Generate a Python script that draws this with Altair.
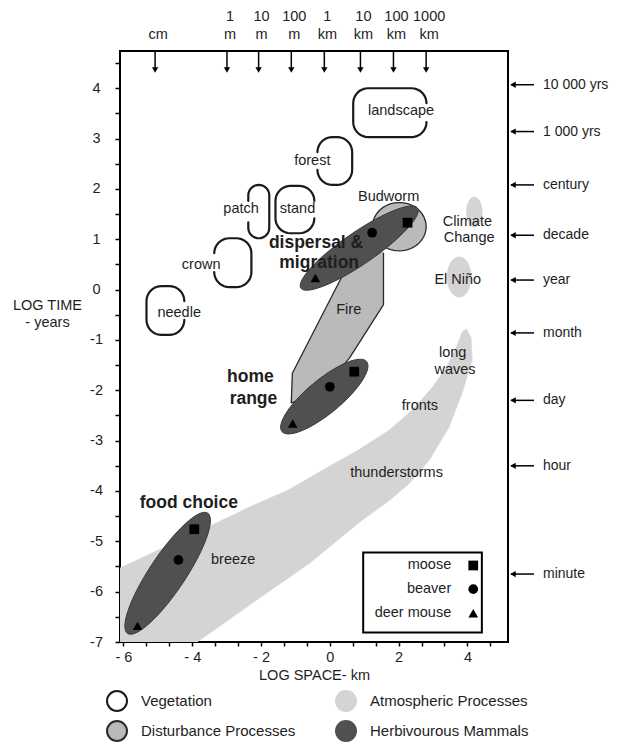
import altair as alt
import numpy as np
import pandas as pd

# ------------------------------------------------------------------ axes
X_DOMAIN = [-6.1, 5.18]
Y_DOMAIN = [-7.0, 4.74]
x_tick_values = [-6, -5.333, -4.667, -4, -3.333, -2.667, -2, -1.333, -0.667, 0,
                 0.667, 1.333, 2, 2.667, 3.333, 4, 4.667]
y_tick_values = [-7, -6.5, -6, -5.5, -5, -4.5, -4, -3.5, -3, -2.5, -2, -1.5, -1, -0.5,
                 0, 0.5, 1, 1.5, 2, 2.5, 3, 3.5, 4, 4.5]

# ------------------------------------------------------------------ top space arrows (log km)
top_x = [-5.08, -2.99, -2.07, -1.12, -0.16, 0.89, 1.85, 2.80]
top_num = ["", "1", "10", "100", "1", "10", "100", "1000"]
top_unit = ["cm", "m", "m", "m", "km", "km", "km", "km"]

# ------------------------------------------------------------------ right time arrows (log years)
right_y = [4.07, 3.14, 2.08, 1.08, 0.19, -0.86, -2.2, -3.5, -5.65]
right_lab = ["10 000 yrs", "1 000 yrs", "century", "decade", "year", "month", "day", "hour", "minute"]

# ------------------------------------------------------------------ vegetation (open outlines)
veg_name = ["needle", "crown", "patch", "stand", "forest", "landscape"]
veg_x0 = [-5.33, -3.36, -2.37, -1.58, -0.36, 0.68]
veg_x1 = [-4.23, -2.28, -1.76, -0.45, 0.65, 2.81]
veg_y0 = [-0.90, 0.05, 1.02, 1.12, 2.08, 3.03]
veg_y1 = [0.07, 1.02, 2.08, 2.06, 3.03, 4.00]
veg_open = ["right", "left", "left", "right", "left", "right"]

# ------------------------------------------------------------------ atmospheric processes
band_x = [-6.1, -6.1, -3.50, -2.34, -1.18, -0.22, 0.77, 1.73, 2.40, 2.98, 3.39, 3.68, 3.85,
          3.97, 4.11, 4.14, 3.85, 3.47, 2.89, 2.31, 1.73, 0.94, -0.60, -2.05, -3.85]
band_y = [-7.0, -5.53, -4.70, -4.32, -3.97, -3.59, -3.21, -2.79, -2.39, -1.94, -1.54, -1.14, -0.84,
          -0.78, -0.96, -1.40, -2.05, -2.73, -3.39, -3.85, -4.19, -4.58, -5.44, -6.13, -7.0]
blob_name = ["Climate Change", "El Niño"]
blob_cx = [4.20, 3.76]
blob_cy = [1.54, 0.25]
blob_rx = [0.23, 0.35]
blob_ry = [0.30, 0.40]

# ------------------------------------------------------------------ disturbance processes
fire_x = [1.56, 1.56, 0.57, -0.36, -1.12, -1.09, 0.33, 1.15]
fire_y = [0.73, -0.30, -1.36, -2.09, -2.25, -1.66, 0.23, 0.99]
bud_cx, bud_cy, bud_rx, bud_ry = 2.02, 1.25, 0.78, 0.48

# ------------------------------------------------------------------ herbivorous mammals
herb_name = ["food choice", "home range", "dispersal"]
herb_xa = [-5.88, -1.39, -0.84]
herb_ya = [-6.83, -2.82, 0.03]
herb_xb = [-3.55, 1.07, 2.55]
herb_yb = [-4.44, -1.43, 1.62]
herb_w = [36, 34, 32]

mk_species = ["deer mouse", "beaver", "moose"] * 3
mk_x = [-5.59, -4.40, -3.94, -1.08, 0.00, 0.71, -0.42, 1.23, 2.26]
mk_y = [-6.68, -5.37, -4.76, -2.66, -1.93, -1.63, 0.23, 1.13, 1.33]

# ------------------------------------------------------------------ labels
reg_text = ["needle", "crown", "patch", "stand", "forest", "landscape", "Budworm", "Climate",
            "Change", "El Niño", "long", "waves", "fronts", "thunderstorms", "Fire", "breeze"]
reg_x = [-4.38, -3.74, -2.58, -0.94, -0.51, 2.07, 1.71, 4.0, 4.05, 3.72, 3.57, 3.64, 2.62, 1.94, 0.55, -2.81]
reg_y = [-0.46, 0.49, 1.60, 1.60, 2.56, 3.54, 1.84, 1.34, 1.02, 0.19, -1.25, -1.60, -2.31, -3.64, -0.40, -5.38]
bold_text = ["food choice", "home", "range", "dispersal &", "migration"]
bold_x = [-4.10, -2.31, -2.22, -0.40, -0.31]
bold_y = [-4.23, -1.73, -2.18, 0.93, 0.52]

# ------------------------------------------------------------------ inner species legend
leg_species = ["moose", "beaver", "deer mouse"]
leg_y = [-5.48, -5.95, -6.43]
leg_text_x = 3.53
leg_sym_x = 4.17
leg_box = dict(x=0.97, x2=4.42, y=-6.81, y2=-5.22)
species_shapes = ["square", "circle", "triangle-up"]

# ------------------------------------------------------------------ category legend (column-major)
cats = ["Vegetation", "Disturbance Processes", "Atmospheric Processes", "Herbivourous Mammals"]
cat_fill = ["white", "#bababa", "#d4d4d4", "#505050"]
cat_stroke = ["#1a1a1a", "#2a2a2a", "#d4d4d4", "#505050"]

# ================================================================== geometry helpers
W, H = 388, 591
SX = W / (X_DOMAIN[1] - X_DOMAIN[0])
SY = H / (Y_DOMAIN[1] - Y_DOMAIN[0])


def arc(cx, cy, r, a0, a1, n=10):
    t = np.radians(np.linspace(a0, a1, n))
    return list(zip(cx + r * np.cos(t), cy + r * np.sin(t)))


def veg_outline(x0, x1, y0, y1, side, r_px=15, gap=0.40):
    w = (x1 - x0) * SX
    h = (y1 - y0) * SY
    r = min(r_px, w / 2, h / 2)
    top = min(h / 2 + gap * h / 2, h - r)
    bot = max(h / 2 - gap * h / 2, r)
    pts = [(w, top)]
    pts += arc(w - r, h - r, r, 0, 90)
    pts += arc(r, h - r, r, 90, 180)
    pts += arc(r, r, r, 180, 270)
    pts += arc(w - r, r, r, 270, 360)
    pts += [(w, bot)]
    if side == "left":
        pts = [(w - px, py) for px, py in pts]
    return [(x0 + px / SX, y0 + py / SY) for px, py in pts]


def ellipse_between(xa, ya, xb, yb, width_px, n=72):
    ax, ay, bx, by = xa * SX, ya * SY, xb * SX, yb * SY
    cx, cy = (ax + bx) / 2, (ay + by) / 2
    a = np.hypot(bx - ax, by - ay) / 2
    b = width_px / 2
    th = np.arctan2(by - ay, bx - ax)
    t = np.linspace(0, 2 * np.pi, n + 1)
    px = cx + a * np.cos(t) * np.cos(th) - b * np.sin(t) * np.sin(th)
    py = cy + a * np.cos(t) * np.sin(th) + b * np.sin(t) * np.cos(th)
    return list(zip(px / SX, py / SY))


def ellipse(cx, cy, rx, ry, n=60):
    t = np.linspace(0, 2 * np.pi, n + 1)
    return list(zip(cx + rx * np.cos(t), cy + ry * np.sin(t)))


def frame(shapes):
    rows = []
    for sid, pts in shapes:
        for i, (x, y) in enumerate(pts):
            rows.append({"id": sid, "o": i, "x": x, "y": y})
    return pd.DataFrame(rows)


atm_df = frame([("band", list(zip(band_x, band_y)))] +
               [(n, ellipse(cx, cy, rx, ry)) for n, cx, cy, rx, ry in
                zip(blob_name, blob_cx, blob_cy, blob_rx, blob_ry)])
fire_df = frame([("fire", list(zip(fire_x, fire_y)))])
bud_df = frame([("budworm", ellipse(bud_cx, bud_cy, bud_rx, bud_ry))])
herb_df = frame([(n, ellipse_between(a, b, c, d, w)) for n, a, b, c, d, w in
                 zip(herb_name, herb_xa, herb_ya, herb_xb, herb_yb, herb_w)])
veg_df = frame([(n, veg_outline(a, b, c, d, s)) for n, a, b, c, d, s in
                zip(veg_name, veg_x0, veg_x1, veg_y0, veg_y1, veg_open)])

mk_df = pd.DataFrame({"sp": mk_species, "x": mk_x, "y": mk_y})
leg_df = pd.DataFrame({"sp": leg_species, "y": leg_y, "xt": [leg_text_x] * 3, "x": [leg_sym_x] * 3})
box_df = pd.DataFrame([leg_box])
top_df = pd.DataFrame({"x": top_x, "num": top_num, "unit": top_unit})
right_df = pd.DataFrame({"y": right_y, "lab": right_lab})
reg_df = pd.DataFrame({"t": reg_text, "x": reg_x, "y": reg_y})
bold_df = pd.DataFrame({"t": bold_text, "x": bold_x, "y": bold_y})
cat_df = pd.DataFrame({"cat": cats})

# ================================================================== encodings
FONT = "Liberation Sans"
TXT = "#1e1e1e"
FS = 14.5

xs = alt.Scale(domain=X_DOMAIN, nice=False, zero=False)
ys = alt.Scale(domain=Y_DOMAIN, nice=False, zero=False)
x_axis = alt.Axis(
    values=x_tick_values, title="LOG SPACE- km", tickSize=4, labelPadding=4,
    labelFlush=False, labelOverlap=False, titleY=33, titleBaseline="middle",
    labelExpr="(abs(datum.value - round(datum.value)) < 0.01 && round(datum.value) % 2 == 0) ? "
              "((datum.value < -0.01 ? '- ' : '') + abs(round(datum.value))) : ''")
y_axis = alt.Axis(
    values=y_tick_values, title=["LOG TIME", "- years"], titleAngle=0, titleAlign="center",
    titleX=-73, titleY=254, titleBaseline="middle", titleLineHeight=17,
    tickSize=5, labelPadding=19, labelAlign="center", labelBaseline="middle",
    labelFlush=False, labelOverlap=False,
    labelExpr="abs(datum.value - round(datum.value)) < 0.01 ? "
              "((datum.value < -0.01 ? '-' : '') + abs(round(datum.value))) : ''")


def X(f="x"):
    return alt.X(f"{f}:Q", scale=xs, axis=x_axis)


def Y(f="y"):
    return alt.Y(f"{f}:Q", scale=ys, axis=y_axis)


def poly(df, **mk):
    return alt.Chart(df).mark_line(clip=True, strokeJoin="round", **mk).encode(
        x=X(), y=Y(), order="o:Q", detail="id:N")


atm = poly(atm_df, fill="#d4d4d4", stroke="#d4d4d4", strokeWidth=0.5)
fire = poly(fire_df, fill="#bababa", stroke="#2a2a2a", strokeWidth=1.3)
bud = poly(bud_df, fill="#bababa", stroke="#2a2a2a", strokeWidth=1.3)
herb = poly(herb_df, fill="#505050", stroke="#383838", strokeWidth=1)
veg = poly(veg_df, stroke="#1a1a1a", strokeWidth=2.2, strokeCap="round")

shape_scale = alt.Scale(domain=leg_species, range=species_shapes)
markers = alt.Chart(mk_df).mark_point(filled=True, size=95, color="black", opacity=1).encode(
    x=X(), y=Y(), shape=alt.Shape("sp:N", scale=shape_scale, legend=None))

box = alt.Chart(box_df).mark_rect(fill="white", stroke="black", strokeWidth=2).encode(
    x=X(), x2="x2", y=Y(), y2="y2")
leg_sym = alt.Chart(leg_df).mark_point(filled=True, size=95, color="black", opacity=1).encode(
    x=X(), y=Y(), shape=alt.Shape("sp:N", scale=shape_scale, legend=None))
leg_txt = alt.Chart(leg_df).mark_text(align="right", baseline="middle", fontSize=FS, color=TXT, font=FONT).encode(
    x=X("xt"), y=Y(), text="sp:N")

reg = alt.Chart(reg_df).mark_text(baseline="middle", fontSize=FS, color=TXT, font=FONT).encode(
    x=X(), y=Y(), text="t:N")
bold = alt.Chart(bold_df).mark_text(baseline="middle", fontSize=17.5, fontWeight="bold", color=TXT, font=FONT).encode(
    x=X(), y=Y(), text="t:N")

top_rule = alt.Chart(top_df).mark_rule(color="black", strokeWidth=1.5).encode(
    x=X(), y=alt.value(0), y2=alt.value(18))
top_head = alt.Chart(top_df).mark_point(shape="triangle-down", filled=True, size=40, color="black", opacity=1).encode(
    x=X(), y=alt.value(19))
top_num_t = alt.Chart(top_df).mark_text(baseline="middle", fontSize=FS, color=TXT, font=FONT, dx=3).encode(
    x=X(), y=alt.value(-34), text="num:N")
top_unit_t = alt.Chart(top_df).mark_text(baseline="middle", fontSize=FS, color=TXT, font=FONT, dx=3).encode(
    x=X(), y=alt.value(-16), text="unit:N")

r_rule = alt.Chart(right_df).mark_rule(color="black", strokeWidth=1.5).encode(
    y=Y(), x=alt.value(W + 3), x2=alt.value(W + 26))
r_head = alt.Chart(right_df).mark_point(shape="triangle-left", filled=True, size=40, color="black", opacity=1).encode(
    y=Y(), x=alt.value(W + 5))
r_text = alt.Chart(right_df).mark_text(align="left", baseline="middle", fontSize=14, color=TXT, font=FONT).encode(
    y=Y(), x=alt.value(W + 35), text="lab:N")

cat_legend = alt.Legend(orient="none", legendX=-14, legendY=639, columns=2, columnPadding=36,
                        rowPadding=2, symbolSize=400, symbolType="circle", symbolStrokeWidth=2,
                        labelFontSize=15, labelOffset=13, title=None, padding=0, labelColor=TXT,
                        labelFont=FONT, labelLimit=300, symbolOpacity=1)
cat_layer = alt.Chart(cat_df).mark_point(filled=True, size=0, opacity=1).encode(
    fill=alt.Fill("cat:N", scale=alt.Scale(domain=cats, range=cat_fill), legend=cat_legend),
    stroke=alt.Stroke("cat:N", scale=alt.Scale(domain=cats, range=cat_stroke), legend=cat_legend))

chart = alt.layer(
    atm, fire, bud, herb, veg, markers, box, leg_sym, leg_txt, reg, bold,
    top_rule, top_head, top_num_t, top_unit_t, r_rule, r_head, r_text, cat_layer
).properties(
    width=W, height=H,
    autosize=alt.AutoSizeParams(type="none"),
    padding={"left": 112, "top": 43, "right": 104, "bottom": 101},
).configure(font=FONT).configure_view(
    stroke="black", strokeWidth=2
).configure_axis(
    domain=False, grid=False, tickColor="black", tickWidth=1.5,
    labelColor=TXT, titleColor=TXT, labelFont=FONT, titleFont=FONT,
    labelFontSize=FS, titleFontSize=FS, titleFontWeight="normal"
)

chart.save("out.html", embed_options={"renderer": "svg", "actions": False})
